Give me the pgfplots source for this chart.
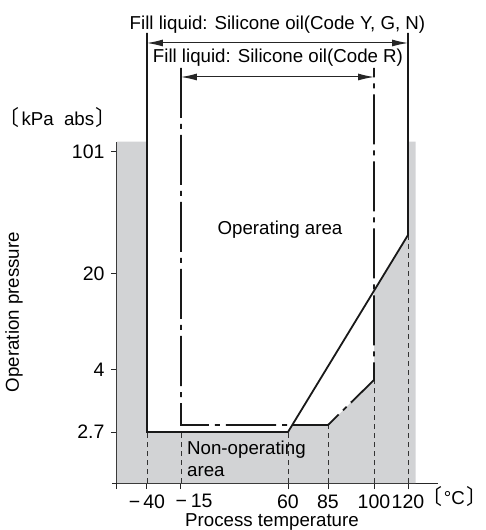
\documentclass[border=0pt]{standalone}
\usepackage{pgfplots}
\pgfplotsset{compat=1.18}
\usepackage{fontspec}
\setmainfont{Liberation Sans}
\newfontfamily\cjk[RawFeature=+palt]{Noto Sans CJK JP}
\usetikzlibrary{arrows.meta}
\definecolor{area}{RGB}{210,211,213}
\newcommand{\fs}{\fontsize{18.7}{22}\selectfont}
\newcommand{\lb}{{\cjk\fontsize{21}{22}\selectfont 〔}}
\newcommand{\rb}{{\cjk\fontsize{21}{22}\selectfont 〕}}
\begin{document}
\begin{tikzpicture}[font=\fs]
\begin{axis}[
  scale only axis, width=321pt, height=341.3pt,
  xmin=117, xmax=438, ymin=47, ymax=388.3,
  axis x line=bottom, axis y line=left,
  axis line style={-, line width=1pt, black!85},
  xtick={117,147,181,288,328,374,408},
  xticklabels={,−\hspace{0.15em}40,\hspace{26pt}−\hspace{0.2em}15,60,85,100,120},
  ytick={98,160,256,378},
  yticklabels={2.7,4,20,101},
  xtick align=outside, ytick align=outside,
  major tick length=6pt,
  tick style={line width=1pt, black!85},
  tick label style={font=\fontsize{19.5}{22}\selectfont},
  xticklabel style={yshift=-2pt, inner xsep=0.5pt},
  yticklabel style={xshift=-3pt},
  /pgf/number format/assume math mode=true,
  clip=false,
]
% non-operating area
\addplot[fill=area, draw=none] coordinates {
  (117,47) (117,388.3) (147,388.3) (147,98) (288,98) (292.3,105) (328,105)
  (374,150) (374,239.2) (408,295) (408,388.3) (415.7,388.3) (415.7,47)} -- cycle;
% short axis overhang at the origin
\addplot[black!85, line width=1pt] coordinates {(112,47) (117,47)};
% thin dashed verticals
\addplot[black!80, line width=0.8pt, dash pattern=on 5pt off 4pt] coordinates {(147,47) (147,98)};
\addplot[black!80, line width=0.8pt, dash pattern=on 5pt off 4pt] coordinates {(181,47) (181,98)};
\addplot[black!80, line width=0.8pt, dash pattern=on 5pt off 4pt] coordinates {(288,47) (288,98)};
\addplot[black!80, line width=0.8pt, dash pattern=on 5pt off 4pt] coordinates {(328,47) (328,105)};
\addplot[black!80, line width=0.8pt, dash pattern=on 5pt off 4pt] coordinates {(374,47) (374,150)};
\addplot[black!80, line width=0.8pt, dash pattern=on 5pt off 4pt] coordinates {(408,47) (408,295)};
% Code R range (dash-dot)
\addplot[black!90, line width=1.8pt, dash pattern=on 50pt off 6pt on 5pt off 6pt] coordinates {
  (181,462) (181,105) (328,105) (374,150) (374,462)};
% Code Y,G,N range (solid)
\addplot[black!90, line width=1.8pt, line join=miter] coordinates {
  (147,497) (147,98) (288,98) (408,295) (408,497)};
% arrows
\addplot[black!85, line width=1pt, {Latex[length=16pt,width=7pt]}-{Latex[length=16pt,width=7pt]}] coordinates {(147,487) (408,487)};
\addplot[black!85, line width=1pt, {Latex[length=16pt,width=7pt]}-{Latex[length=16pt,width=7pt]}] coordinates {(181,453) (374,453)};
% texts
\node at (axis cs:277.5,505) {Fill liquid: Silicone oil(Code Y, G, N)};
\node at (axis cs:278,472) {Fill liquid: Silicone oil(Code R)};
\node[anchor=base west, inner sep=0pt] at (axis cs:8,404) {\lb\hspace{0.15em}kPa\hspace{0.55em}abs\hspace{0.1em}\rb};
\node[rotate=90] at (axis cs:14,218) {Operation pressure};
\node at (axis cs:280,300) {Operating area};
\node[anchor=base west, inner sep=0pt] at (axis cs:187,76) {Non-operating};
\node[anchor=base west, inner sep=0pt] at (axis cs:187,54) {area};
\node[anchor=base west, inner sep=0pt] at (axis cs:431,26) {\lb\hspace{0.12em}°C\hspace{0.12em}\rb};
\node[anchor=base] at (axis cs:272,4) {Process temperature};
\coordinate (BL) at (axis cs:0,0);
\coordinate (TR) at (axis cs:486,530);
\end{axis}
\pgfresetboundingbox
\path (BL) rectangle (TR);
\end{tikzpicture}
\end{document}
